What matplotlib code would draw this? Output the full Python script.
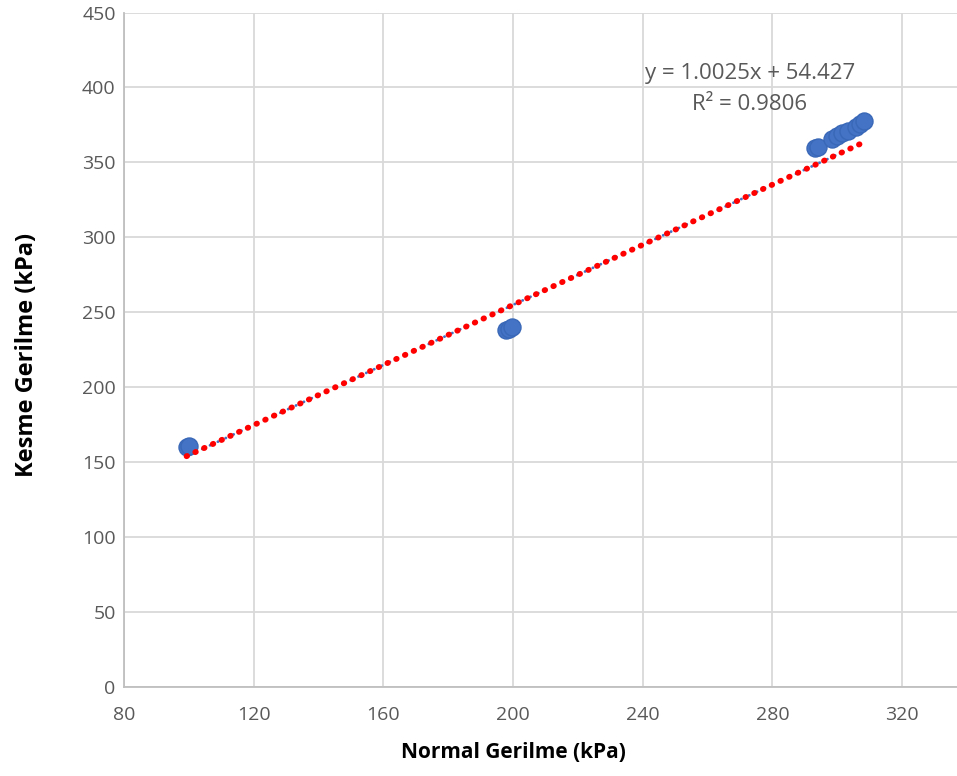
import matplotlib
matplotlib.use("Agg")
import matplotlib.pyplot as plt
import numpy as np

plt.rcParams['font.family'] = ['Open Sans', 'DejaVu Sans']

# Data
normal_stress = [99.3, 100.0, 197.8, 198.9, 199.8, 293.2, 294.0, 298.4, 300.0,
                 301.6, 303.3, 305.8, 307.0, 308.4]
shear_stress = [160.0, 161.0, 238.0, 239.0, 240.3, 359.5, 360.3, 365.6, 367.4,
                369.4, 371.2, 373.9, 375.3, 377.6]
slope = 1.0025
intercept = 54.427
r2 = 0.9806
x_ticks = [80, 120, 160, 200, 240, 280, 320]
y_ticks = [0, 50, 100, 150, 200, 250, 300, 350, 400, 450]

W, H = 957, 776
fig = plt.figure(figsize=(W / 100, H / 100), dpi=100)
ax = fig.add_axes([124 / W, 1 - 687 / H, (957 - 124) / W, (687 - 12.5) / H])

ax.set_xlim(80, 80 + (957 - 124) / 3.2417)
ax.set_ylim(0, 450)
ax.set_xticks(x_ticks)
ax.set_yticks(y_ticks)
ax.grid(True, color='#d9d9d9', linewidth=1.3)
ax.set_axisbelow(True)
for s in ['top', 'right']:
    ax.spines[s].set_visible(False)
for s in ['left', 'bottom']:
    ax.spines[s].set_color('#bfbfbf')
    ax.spines[s].set_linewidth(1.3)
ax.tick_params(length=0, labelsize=14, colors='#595959')
ax.tick_params(axis='y', pad=6)
ax.tick_params(axis='x', pad=14)

ax.scatter(normal_stress, shear_stress, s=150, color='#4472C4',
           edgecolors='#3a68b8', linewidths=1.0, zorder=3)

xs = np.array([min(normal_stress), max(normal_stress)])
ys = slope * xs + intercept
ax.plot(xs, ys, color='#4472C4', linewidth=2.0, linestyle=(0, (0.1, 3.0)),
        dash_capstyle='round', zorder=4)
ax.plot(xs, ys, color='#ff0000', linewidth=4.2, linestyle=(0, (0.1, 1.55)),
        dash_capstyle='round', zorder=5)

ax.text(273.1, 409.6, f"y = {slope}x + {intercept}", ha='center', va='center',
        fontsize=16, color='#595959', zorder=6)
ax.text(273.1, 388.3, f"R² = {r2}", ha='center', va='center',
        fontsize=16, color='#595959', zorder=6)

fig.text(513 / W, 1 - 753 / H, "Normal Gerilme (kPa)", ha='center', va='center',
         fontsize=15, fontweight='bold', color='black')
fig.text(27 / W, 1 - 355 / H, "Kesme Gerilme (kPa)", ha='center', va='center',
         rotation=90, fontsize=17, fontweight='bold', color='black')

fig.savefig("out.png", dpi=100)
